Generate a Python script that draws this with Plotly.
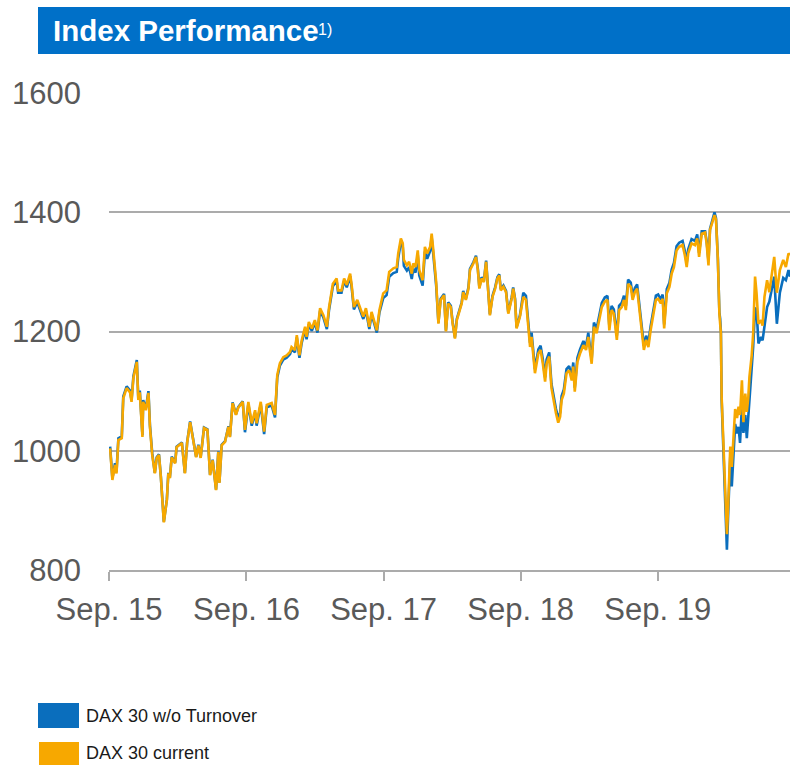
import plotly.graph_objects as go

# ---------------- data ----------------
dates = [
    "2015-09-04", "2015-09-10", "2015-09-17", "2015-09-21", "2015-09-26", "2015-10-05", "2015-10-09", "2015-10-18", "2015-10-27", "2015-10-31",
    "2015-11-05", "2015-11-14", "2015-11-18", "2015-11-22", "2015-11-29", "2015-12-01", "2015-12-08", "2015-12-15", "2015-12-19", "2015-12-25",
    "2016-01-01", "2016-01-06", "2016-01-12", "2016-01-17", "2016-01-25", "2016-02-02", "2016-02-06", "2016-02-10", "2016-02-15", "2016-02-24",
    "2016-02-28", "2016-03-13", "2016-03-21", "2016-03-27", "2016-04-04", "2016-04-12", "2016-04-20", "2016-04-26", "2016-05-02", "2016-05-11",
    "2016-05-20", "2016-05-27", "2016-06-03", "2016-06-12", "2016-06-18", "2016-06-21", "2016-06-27", "2016-07-06", "2016-07-15", "2016-07-19",
    "2016-07-26", "2016-08-04", "2016-08-10", "2016-08-22",
    "2016-08-28", "2016-09-06", "2016-09-15", "2016-09-24", "2016-09-28", "2016-10-09", "2016-10-18", "2016-10-25", "2016-11-07", "2016-11-16",
    "2016-11-22", "2016-11-29", "2016-12-08", "2016-12-17", "2016-12-26", "2016-12-30", "2017-01-08", "2017-01-13", "2017-01-20", "2017-01-26",
    "2017-02-04", "2017-02-08", "2017-02-14", "2017-02-22", "2017-03-02", "2017-03-09", "2017-03-16", "2017-03-25", "2017-04-03", "2017-04-09",
    "2017-04-19", "2017-04-29", "2017-05-03", "2017-05-12", "2017-05-19", "2017-05-26", "2017-06-04", "2017-06-08", "2017-06-14", "2017-06-23",
    "2017-07-02", "2017-07-09", "2017-07-16", "2017-07-25", "2017-07-31", "2017-08-06", "2017-08-14", "2017-08-21",
    "2017-08-31", "2017-09-09", "2017-09-16", "2017-09-27", "2017-10-06", "2017-10-10", "2017-10-17", "2017-10-22", "2017-10-25", "2017-11-02",
    "2017-11-08", "2017-11-15", "2017-11-19", "2017-11-25", "2017-12-01", "2017-12-05", "2017-12-14", "2017-12-20", "2017-12-26", "2018-01-03",
    "2018-01-07", "2018-01-11", "2018-01-19",
    "2018-01-25", "2018-01-31", "2018-02-09", "2018-02-14", "2018-02-20", "2018-02-27", "2018-03-04", "2018-03-10", "2018-03-15", "2018-03-22",
    "2018-03-28", "2018-04-01", "2018-04-08", "2018-04-15", "2018-04-19", "2018-04-28", "2018-05-05", "2018-05-10", "2018-05-14", "2018-05-20",
    "2018-05-26", "2018-06-01", "2018-06-07", "2018-06-11", "2018-06-18", "2018-06-25", "2018-07-01", "2018-07-06", "2018-07-10", "2018-07-17",
    "2018-07-24", "2018-07-30", "2018-08-08", "2018-08-12", "2018-08-17", "2018-08-21", "2018-08-30",
    "2018-09-08", "2018-09-15", "2018-09-21", "2018-09-26", "2018-09-30", "2018-10-09", "2018-10-18", "2018-10-24", "2018-10-30", "2018-11-05",
    "2018-11-09", "2018-11-16", "2018-11-22", "2018-11-27", "2018-12-04", "2018-12-10", "2018-12-15", "2018-12-19", "2018-12-25", "2019-01-01",
    "2019-01-08", "2019-01-15", "2019-01-19", "2019-01-23", "2019-01-30", "2019-02-06", "2019-02-15", "2019-02-22", "2019-02-28", "2019-03-04",
    "2019-03-09", "2019-03-15", "2019-03-22", "2019-03-29", "2019-04-05", "2019-04-13", "2019-04-20", "2019-04-25", "2019-05-01", "2019-05-07",
    "2019-05-15", "2019-05-21", "2019-05-28", "2019-06-03", "2019-06-08", "2019-06-14", "2019-06-21", "2019-06-26", "2019-07-02", "2019-07-08",
    "2019-07-14", "2019-07-20", "2019-07-26", "2019-08-01", "2019-08-07", "2019-08-13", "2019-08-20", "2019-08-27", "2019-09-02", "2019-09-09",
    "2019-09-14", "2019-09-18", "2019-09-25", "2019-10-02", "2019-10-08", "2019-10-14", "2019-10-21", "2019-10-28", "2019-11-06", "2019-11-12",
    "2019-11-17", "2019-11-21", "2019-11-30", "2019-12-09", "2019-12-15", "2019-12-20", "2019-12-27",
    "2020-01-05", "2020-01-09", "2020-01-14", "2020-01-18", "2020-01-25", "2020-01-30", "2020-02-03", "2020-02-08", "2020-02-12", "2020-02-14",
    "2020-02-16", "2020-02-18", "2020-02-23", "2020-02-27", "2020-03-01", "2020-03-03", "2020-03-07", "2020-03-10", "2020-03-12", "2020-03-16",
    "2020-03-21", "2020-03-25", "2020-03-30", "2020-04-03", "2020-04-07", "2020-04-12", "2020-04-16", "2020-04-21", "2020-04-25", "2020-04-29",
    "2020-05-02", "2020-05-08", "2020-05-12", "2020-05-17", "2020-05-21", "2020-05-26", "2020-06-02", "2020-06-06", "2020-06-11", "2020-06-18",
    "2020-06-24", "2020-06-30", "2020-07-07", "2020-07-14", "2020-07-22", "2020-07-31", "2020-08-07", "2020-08-14", "2020-08-18",
]

dax_current = [
    1004, 951, 976, 962, 1018, 1021, 1088, 1105, 1098, 1082,
    1122, 1149, 1085, 1098, 1023, 1082, 1068, 1097, 1040, 993,
    962, 988, 993, 956, 880, 917, 962, 954, 989, 979,
    1006, 1013, 962, 1013, 1048, 1018, 989, 1009, 988, 1038,
    1035, 959, 984, 934, 998, 946, 1009, 1015, 1040, 1023,
    1080, 1060, 1072, 1082,
    1035, 1082, 1046, 1068, 1046, 1082, 1032, 1077, 1080, 1060,
    1127, 1147, 1157, 1160, 1166, 1174, 1169, 1194, 1160, 1185,
    1208, 1191, 1216, 1205, 1219, 1202, 1239, 1227, 1208, 1241,
    1280, 1289, 1269, 1269, 1289, 1278, 1297, 1278, 1241, 1253,
    1236, 1225, 1239, 1208, 1233, 1219, 1202, 1236,
    1264, 1269, 1300, 1306, 1308, 1331, 1356, 1348, 1320, 1311,
    1317, 1297, 1314, 1308, 1336, 1303, 1286, 1342, 1331, 1342,
    1364, 1339, 1283,
    1213, 1253, 1261, 1200, 1247, 1241, 1213, 1188, 1219, 1236,
    1247, 1266, 1253, 1272, 1303, 1314, 1325, 1303, 1272, 1289,
    1283, 1317, 1266, 1227, 1258, 1272, 1289, 1294, 1269, 1275,
    1266, 1230, 1255, 1272, 1253, 1205, 1225,
    1258, 1253, 1202, 1174, 1191, 1130, 1163, 1169, 1146, 1116,
    1146, 1158, 1105, 1085, 1063, 1047, 1057, 1085, 1096, 1130,
    1135, 1118, 1141, 1099, 1149, 1163, 1177, 1169, 1191, 1169,
    1146, 1208, 1197, 1219, 1241, 1250, 1253, 1202, 1236, 1230,
    1186, 1236, 1241, 1253, 1236, 1280, 1275, 1253, 1266, 1272,
    1236, 1197, 1169, 1186, 1174, 1202, 1230, 1253, 1255, 1247,
    1255, 1205, 1264, 1275, 1297, 1308, 1336, 1342, 1345, 1328,
    1308, 1331, 1348, 1345, 1356, 1325, 1364,
    1366, 1348, 1311, 1370, 1386, 1395, 1388, 1320, 1230, 1215,
    1197, 1090, 1000, 929, 884, 860, 917, 995, 1007, 973,
    1018, 1070, 1055, 1074, 1060, 1118, 1048, 1096, 1065, 1090,
    1124, 1160, 1197, 1292, 1264, 1213, 1219, 1210, 1258, 1286,
    1266, 1297, 1325, 1265, 1303, 1320, 1308, 1331, 1328,
]

dax_wo_turnover = [
    1007, 954, 979, 965, 1021, 1024, 1091, 1108, 1101, 1085,
    1125, 1152, 1088, 1101, 1026, 1085, 1071, 1100, 1043, 996,
    963, 989, 994, 957, 881, 918, 963, 955, 990, 980,
    1007, 1014, 963, 1014, 1049, 1019, 990, 1010, 989, 1039,
    1036, 960, 985, 935, 999, 947, 1010, 1016, 1041, 1024,
    1081, 1061, 1073, 1083,
    1031, 1078, 1042, 1064, 1042, 1078, 1028, 1073, 1076, 1056,
    1123, 1143, 1153, 1156, 1162, 1170, 1165, 1190, 1156, 1181,
    1204, 1187, 1212, 1201, 1215, 1198, 1235, 1223, 1204, 1237,
    1276, 1285, 1265, 1265, 1285, 1274, 1293, 1274, 1237, 1249,
    1232, 1221, 1235, 1204, 1229, 1215, 1198, 1232,
    1256, 1261, 1292, 1298, 1300, 1323, 1350, 1342, 1310, 1302,
    1308, 1288, 1305, 1299, 1328, 1294, 1277, 1334, 1322, 1335,
    1358, 1332, 1277,
    1215, 1255, 1263, 1202, 1249, 1243, 1215, 1190, 1221, 1238,
    1249, 1268, 1255, 1274, 1305, 1316, 1327, 1305, 1274, 1291,
    1285, 1319, 1268, 1229, 1260, 1274, 1291, 1296, 1271, 1277,
    1268, 1232, 1257, 1274, 1255, 1207, 1227,
    1265, 1260, 1209, 1181, 1198, 1137, 1170, 1176, 1153, 1123,
    1153, 1165, 1112, 1092, 1070, 1054, 1064, 1092, 1103, 1137,
    1142, 1125, 1148, 1106, 1156, 1170, 1184, 1176, 1198, 1176,
    1153, 1215, 1204, 1226, 1248, 1257, 1260, 1209, 1243, 1237,
    1193, 1243, 1248, 1260, 1243, 1287, 1282, 1260, 1273, 1279,
    1243, 1204, 1176, 1193, 1181, 1209, 1237, 1260, 1262, 1254,
    1262, 1212, 1271, 1282, 1304, 1315, 1343, 1349, 1352, 1335,
    1315, 1338, 1355, 1352, 1363, 1332, 1368,
    1368, 1352, 1318, 1372, 1388, 1400, 1390, 1322, 1232, 1222,
    1200, 1085, 995, 920, 870, 834, 905, 980, 990, 940,
    1000, 1045, 1029, 1040, 1013, 1075, 1030, 1060, 1021, 1055,
    1095, 1140, 1175, 1240, 1236, 1180, 1191, 1185, 1213, 1241,
    1250, 1270, 1292, 1213, 1265, 1290, 1286, 1303, 1292,
]

tick_dates = ["2015-09-01", "2016-09-01", "2017-09-01", "2018-09-01", "2019-09-01"]
tick_labels = ["Sep. 15", "Sep. 16", "Sep. 17", "Sep. 18", "Sep. 19"]
y_ticks = [800, 1000, 1200, 1400, 1600]
x_range = ["2015-09-01", "2020-08-18"]
y_range = [800, 1600]

series_names = ["DAX 30 w/o Turnover", "DAX 30 current"]
title_text = "Index Performance"
title_note = "1)"

if not (len(dates) == len(dax_current) == len(dax_wo_turnover)):
    raise ValueError(f"length mismatch {len(dates)} {len(dax_current)} {len(dax_wo_turnover)}")

# ---------------- styling ----------------
W, H = 790, 765
PLOT_L, PLOT_R, PLOT_T, PLOT_B = 109, 790, 93, 570   # plot area in window pixels
L, R, T, B = PLOT_L, W - PLOT_R, PLOT_T, H - PLOT_B

BLUE = "#0A6EBD"
BAR_BLUE = "#0070C8"
ORANGE = "#F7A800"
GRID = "#ABABAB"
TXT = "#595959"
FONT = "Liberation Sans, Arial, sans-serif"

pw, ph = PLOT_R - PLOT_L, PLOT_B - PLOT_T


def px_x(px):
    return (px - PLOT_L) / pw


def px_y(py):
    return (PLOT_B - py) / ph


fig = go.Figure()
fig.add_trace(go.Scatter(x=dates, y=dax_wo_turnover, mode="lines", name=series_names[0],
                         line=dict(color=BLUE, width=2.6), showlegend=False))
fig.add_trace(go.Scatter(x=dates, y=dax_current, mode="lines", name=series_names[1],
                         line=dict(color=ORANGE, width=2.6), showlegend=False))

shapes = [
    # title bar
    dict(type="rect", xref="paper", yref="paper", x0=px_x(38), x1=px_x(795), y0=px_y(54), y1=px_y(7),
         fillcolor=BAR_BLUE, line=dict(width=0), layer="below"),
    # legend swatches
    dict(type="rect", xref="paper", yref="paper", x0=px_x(38), x1=px_x(79), y0=px_y(728), y1=px_y(703),
         fillcolor=BLUE, line=dict(width=0)),
    dict(type="rect", xref="paper", yref="paper", x0=px_x(39), x1=px_x(79), y0=px_y(768), y1=px_y(742),
         fillcolor=ORANGE, line=dict(width=0)),
]

annotations = [
    dict(xref="paper", yref="paper", x=px_x(51), y=px_y(31), xanchor="left", yanchor="middle",
         text=f"<b>{title_text}</b>", showarrow=False, font=dict(family=FONT, size=29.5, color="white")),
    dict(xref="paper", yref="paper", x=px_x(316), y=px_y(29), xanchor="left", yanchor="middle",
         text=title_note, showarrow=False, font=dict(family=FONT, size=16, color="white")),
    dict(xref="paper", yref="paper", x=px_x(84), y=px_y(716), xanchor="left", yanchor="middle",
         text=series_names[0], showarrow=False, font=dict(family=FONT, size=18, color="#1A1A1A")),
    dict(xref="paper", yref="paper", x=px_x(84), y=px_y(753), xanchor="left", yanchor="middle",
         text=series_names[1], showarrow=False, font=dict(family=FONT, size=18, color="#1A1A1A")),
]

fig.update_layout(
    width=W, height=H, margin=dict(l=L, r=R, t=T, b=B, pad=0),
    paper_bgcolor="white", plot_bgcolor="white",
    shapes=shapes, annotations=annotations, showlegend=False,
    font=dict(family=FONT, color=TXT),
)
fig.update_xaxes(
    type="date", range=x_range, tickvals=tick_dates, ticktext=tick_labels,
    showgrid=False, showline=True, linecolor=GRID, linewidth=2,
    ticks="outside", ticklen=9, tickwidth=2, tickcolor=GRID,
    tickfont=dict(family=FONT, size=31, color=TXT), ticklabelstandoff=2,
    zeroline=False, fixedrange=True,
)
fig.update_yaxes(
    range=y_range, tickvals=y_ticks, showgrid=True, gridcolor=GRID, gridwidth=2,
    showline=False, ticks="", tickfont=dict(family=FONT, size=31, color=TXT),
    ticklabelstandoff=27, zeroline=False, fixedrange=True,
)

# let the figure sit at the top-left corner of the page without scrollbars
page_js = "document.body.style.margin='0';document.body.style.overflow='hidden';"
fig.write_html("out.html", post_script=page_js, config={"displayModeBar": False})
